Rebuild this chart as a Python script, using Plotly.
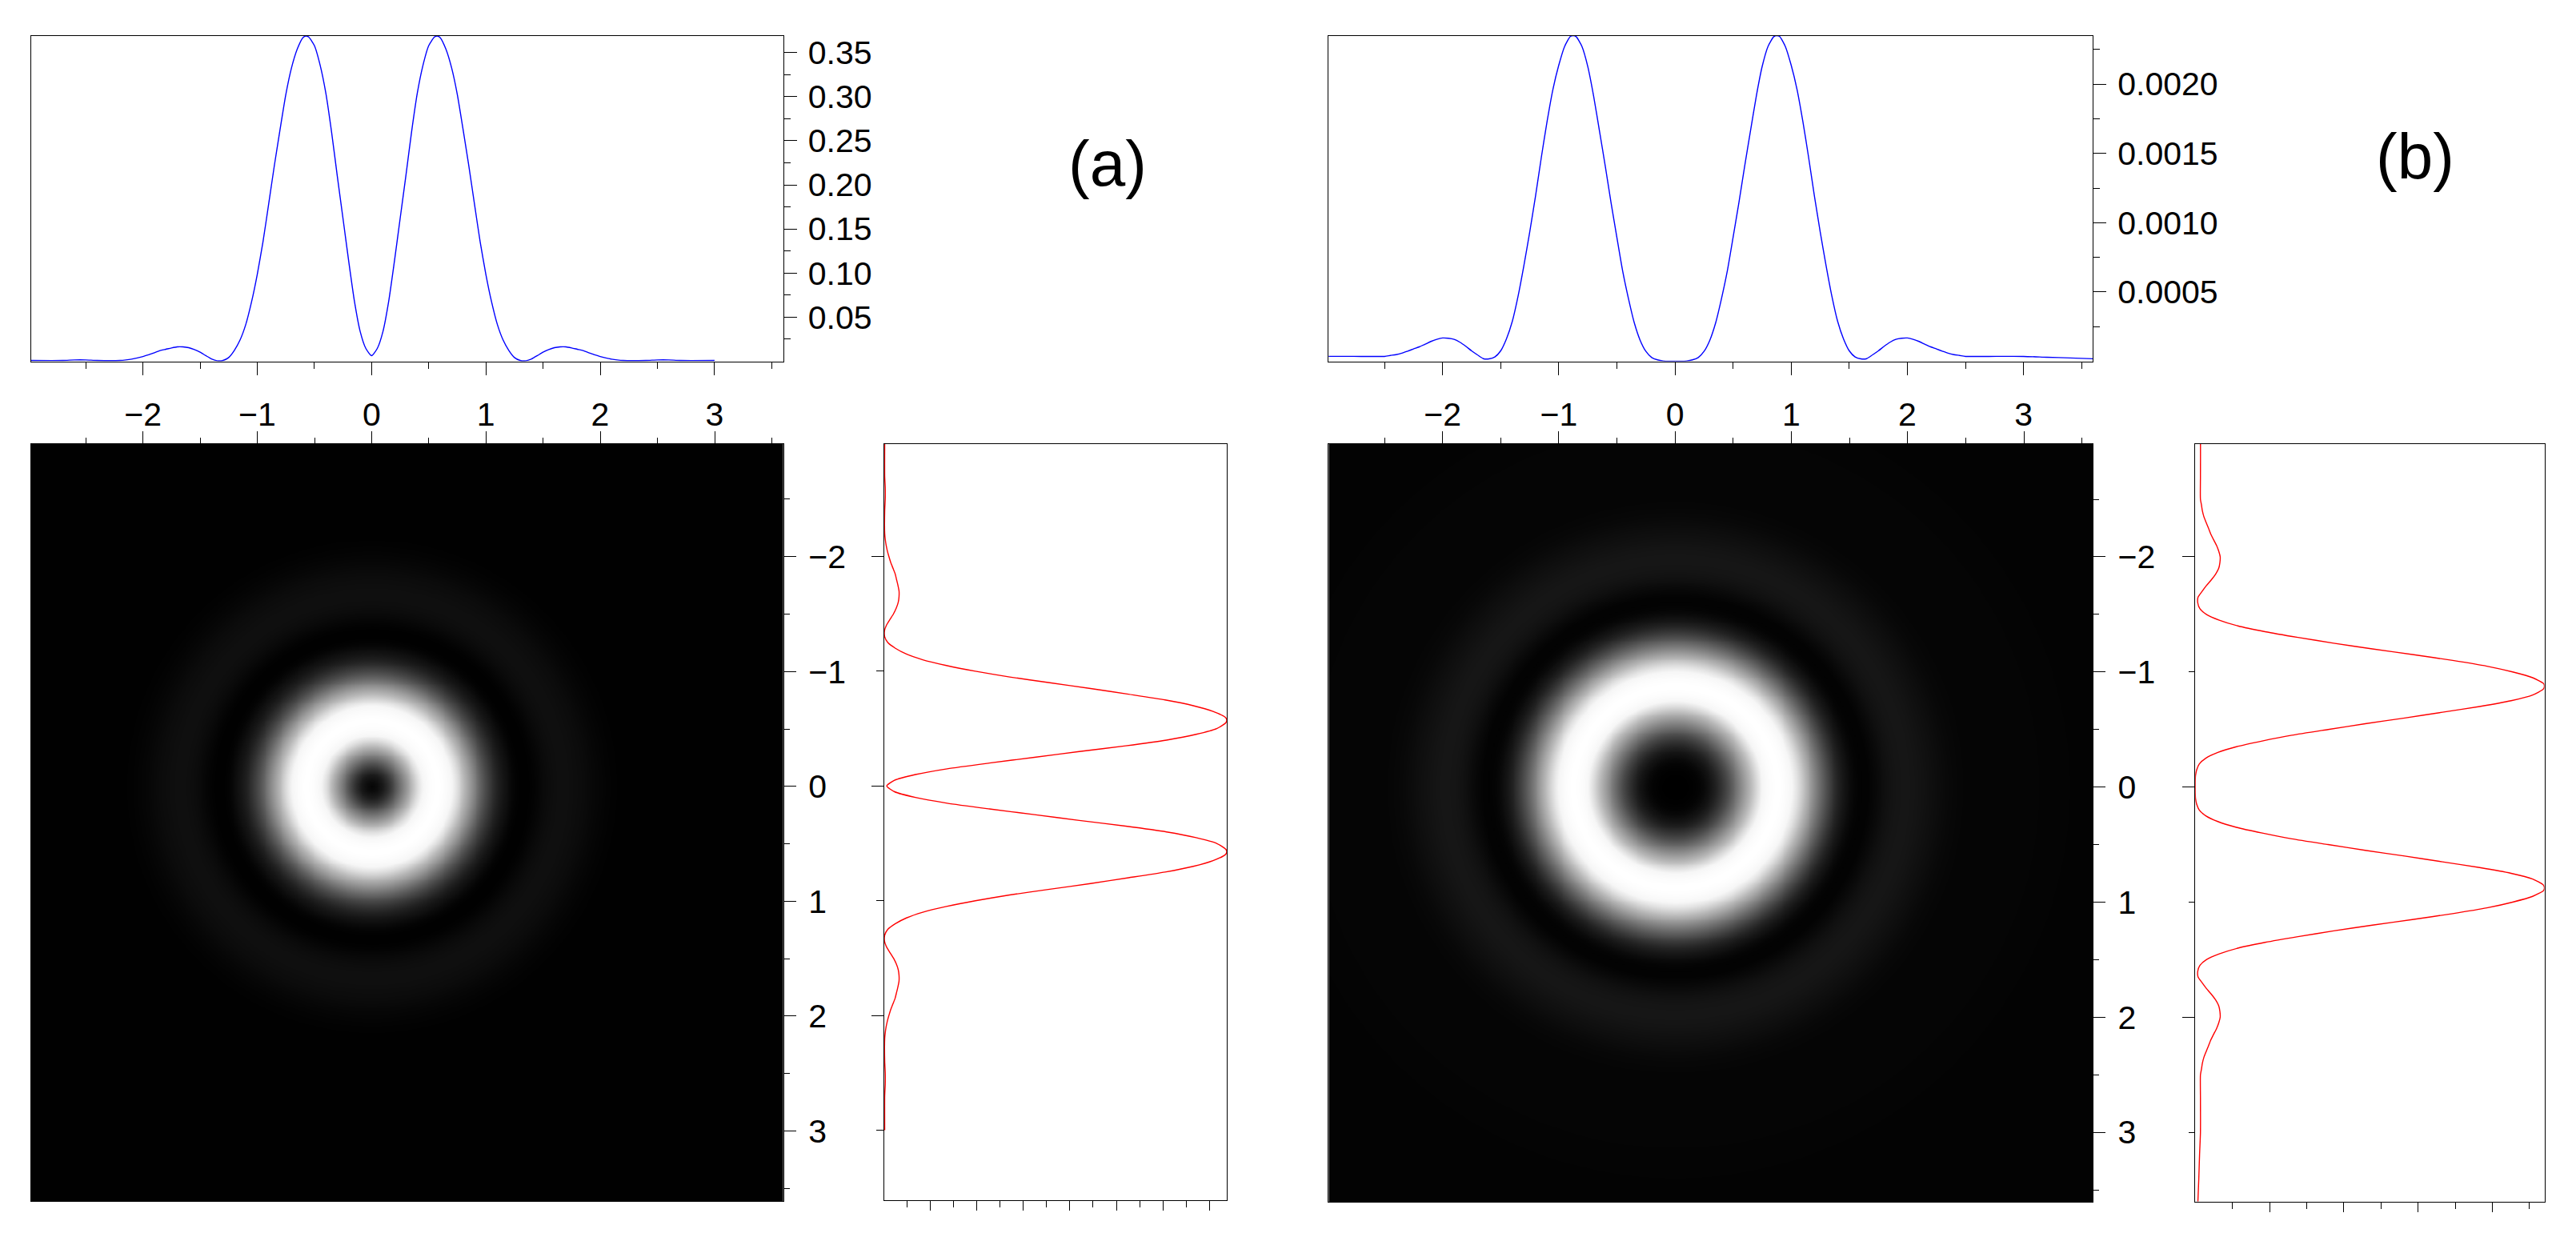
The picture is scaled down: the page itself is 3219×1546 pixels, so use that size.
import numpy as np
import plotly.graph_objects as go

W, H = 3219, 1546

# ---- data -----------------------------------------------------------------
a_r = [0, .05, .10, .15, .20, .25, .30, .35, .40, .45, .50, .55, .575, .60, .65, .70, .75, .80, .85, .90, .95,
       1.00, 1.05, 1.10, 1.15, 1.20, 1.25, 1.30, 1.35, 1.40, 1.45, 1.50, 1.55, 1.60, 1.65, 1.70, 1.75, 1.80,
       1.85, 1.90, 1.95, 2.00, 2.05, 2.10, 2.15, 2.20, 2.40, 2.50, 2.60, 2.70, 3.00]
a_profile = [.0064, .0145, .0339, .0681, .1135, .1619, .2101, .2600, .3039, .3357, .3578, .3675, .3687, .3669,
             .3539, .3327, .3024, .2631, .2222, .1783, .1353, .0984, .0672, .0418, .0242, .0124, .0042, .0009,
             .0006, .0027, .0064, .0103, .0133, .0154, .0163, .0163, .0151, .0136, .0121, .0097, .0073, .0054,
             .0037, .0024, .0015, .0009, .0009, .0015, .0015, .0009, .0009]
a_profile_vertical = [.0031, .0115] + a_profile[2:]

b_r = [0, .05, .10, .15, .20, .25, .30, .35, .40, .45, .50, .55, .60, .65, .70, .75, .80, .85, .875, .90, .95,
       1.00, 1.05, 1.10, 1.15, 1.20, 1.25, 1.30, 1.35, 1.40, 1.45, 1.50, 1.55, 1.60, 1.65, 1.70, 1.75, 1.80,
       1.85, 1.90, 1.95, 2.00, 2.05, 2.10, 2.15, 2.20, 2.25, 2.30, 2.35, 2.40, 2.45, 2.50, 2.70, 3.00, 3.20,
       3.40, 3.60]
b_profile = [0, 0, .000002, .00001, .000027, .000071, .000152, .000277, .000451, .000650, .000894, .001144,
             .001410, .001664, .001914, .002126, .002271, .002342, .00235, .002344, .002271, .002136, .001963,
             .001733, .001471, .001192, .000932, .000691, .00047, .000287, .000162, .000075, .000031, .000017,
             .000019, .000046, .000075, .000108, .000137, .000158, .000166, .000168, .000158, .000143, .000123,
             .000104, .000089, .000073, .000058, .000048, .000042, .000035, .000035, .000035, .000029, .000024,
             .000018]

a_peak, b_peak = .3687, .00235
a_major = [.05, .10, .15, .20, .25, .30, .35]
a_minor = [.025, .075, .125, .175, .225, .275, .325]
b_major = [.0005, .0010, .0015, .0020]
b_minor = [.00025, .00075, .00125, .00175, .00225]
a_major_text = ["0.05", "0.10", "0.15", "0.20", "0.25", "0.30", "0.35"]
b_major_text = ["0.0005", "0.0010", "0.0015", "0.0020"]
a_range, b_range = [-2.98, 3.60], [-2.98, 3.594]
gray_stops = [[0, "#000000"], [.044, "#0f0f0f"], [.30, "#505050"], [.70, "#b8b8b8"], [.90, "#f6f6f6"], [1, "#ffffff"]]


def mirror(r, v):
    return [-t for t in r[:0:-1]] + list(r), list(v[:0:-1]) + list(v)


FONT = dict(family="Liberation Sans, Arial, sans-serif", size=41, color="#000000")
fig = go.Figure()


def dom_x(a, b):
    return [a / W, b / W]


def dom_y(t, b):
    return [1 - b / H, 1 - t / H]


def base(**kw):
    d = dict(showgrid=False, zeroline=False, showline=True, linecolor="#000000", linewidth=1, mirror=True,
             ticks="outside", tickcolor="#000000", tickwidth=1, tickfont=FONT, automargin=False)
    d.update(kw)
    return d


def panel(idx, r, prof, prof_v, peak, major, major_text, minor, xr, box_top, box_img, box_side, len_side):
    n = [idx + i for i in range(3)]
    names = [("x" + str(k) if k > 1 else "x", "y" + str(k) if k > 1 else "y") for k in n]
    keys = [("xaxis" + str(k) if k > 1 else "xaxis", "yaxis" + str(k) if k > 1 else "yaxis") for k in n]
    # top line profile
    xs, ys = mirror(r, prof)
    fig.add_trace(go.Scatter(x=xs, y=ys, mode="lines", line=dict(color="#0000ff", width=1.4, shape="spline", smoothing=0.6),
                             xaxis=names[0][0], yaxis=names[0][1], hoverinfo="skip", showlegend=False))
    # intensity image, built from the radial profile
    g = np.arange(-3.0, 3.62, 0.02)
    rr = np.hypot(*np.meshgrid(g, g))
    z = np.interp(rr, r, prof)
    fig.add_trace(go.Heatmap(x=g, y=g, z=z, zmin=0, zmax=peak, colorscale=gray_stops, showscale=False, zsmooth="best",
                             xaxis=names[1][0], yaxis=names[1][1], hoverinfo="skip"))
    # side line profile
    xv, yv = mirror(r, prof_v)
    fig.add_trace(go.Scatter(x=yv, y=xv, mode="lines", line=dict(color="#ff0000", width=1.4, shape="spline", smoothing=0.6),
                             xaxis=names[2][0], yaxis=names[2][1], hoverinfo="skip", showlegend=False))

    layout = {}
    layout[keys[0][0]] = base(domain=dom_x(*box_top[:2]), anchor=names[0][1], range=xr, side="bottom",
                              tickmode="linear", tick0=0, dtick=1, ticklen=16, ticklabelstandoff=14,
                              minor=dict(ticks="outside", tickmode="linear", tick0=0, dtick=.5, ticklen=8,
                                         tickcolor="#000000", tickwidth=1))
    layout[keys[0][1]] = base(domain=dom_y(*box_top[2:]), anchor=names[0][0], range=[0, peak], side="right",
                              tickmode="array", tickvals=major, ticktext=major_text, ticklen=16, ticklabelstandoff=6,
                              minor=dict(ticks="outside", tickmode="array", tickvals=minor, ticklen=8,
                                         tickcolor="#000000", tickwidth=1))
    layout[keys[1][0]] = base(domain=dom_x(*box_img[:2]), anchor=names[1][1], range=xr, side="top",
                              tickmode="linear", tick0=0, dtick=1, ticklen=15, showticklabels=False,
                              minor=dict(ticks="outside", tickmode="linear", tick0=0, dtick=.5, ticklen=7,
                                         tickcolor="#000000", tickwidth=1))
    layout[keys[1][1]] = base(domain=dom_y(*box_img[2:]), anchor=names[1][0], range=[xr[1] + .01, xr[0]], side="right",
                              tickmode="linear", tick0=0, dtick=1, ticklen=15, ticklabelstandoff=7,
                              minor=dict(ticks="outside", tickmode="linear", tick0=0, dtick=.5, ticklen=7,
                                         tickcolor="#000000", tickwidth=1))
    layout[keys[2][0]] = base(domain=dom_x(*box_side[:2]), anchor=names[2][1], range=[0, peak], side="bottom",
                              tickmode="array", tickvals=major, ticklen=12, showticklabels=False,
                              minor=dict(ticks="outside", tickmode="array", tickvals=minor, ticklen=8,
                                         tickcolor="#000000", tickwidth=1))
    layout[keys[2][1]] = base(domain=dom_y(*box_side[2:]), anchor=names[2][0], range=[xr[1] + .01, xr[0]], side="left",
                              tickmode="linear", tick0=0, dtick=2, ticklen=15, showticklabels=False,
                              minor=dict(ticks="outside", tickmode="linear", tick0=0, dtick=1, ticklen=len_side,
                                         tickcolor="#000000", tickwidth=1))
    fig.update_layout(**layout)


panel(1, a_r, a_profile, a_profile_vertical, a_peak, a_major, a_major_text, a_minor, a_range,
      (38.6, 978.6, 45, 451.5), (38.6, 979, 555, 1501), (1104.5, 1533, 555, 1500), 9)
panel(4, b_r, b_profile, b_profile, b_peak, b_major, b_major_text, b_minor, b_range,
      (1660.3, 2615, 44.5, 451.5), (1660.3, 2615.3, 555, 1502), (2743.2, 3179.5, 555, 1502), 7)

labels = [("(a)", 1384, 204.5), ("(b)", 3018, 195)]
fig.update_layout(
    width=W, height=H, margin=dict(l=0, r=0, t=0, b=0), paper_bgcolor="#ffffff", plot_bgcolor="#ffffff",
    template="none", showlegend=False, font=FONT,
    annotations=[dict(text=t, x=x / W, y=1 - y / H, xref="paper", yref="paper", xanchor="center", yanchor="middle",
                      showarrow=False, font=dict(family=FONT["family"], size=80, color="#000000")) for t, x, y in labels],
)
fig.write_html("out.html", config=dict(displayModeBar=False),
               post_script="document.body.style.margin='0';document.documentElement.style.overflow='hidden';")
